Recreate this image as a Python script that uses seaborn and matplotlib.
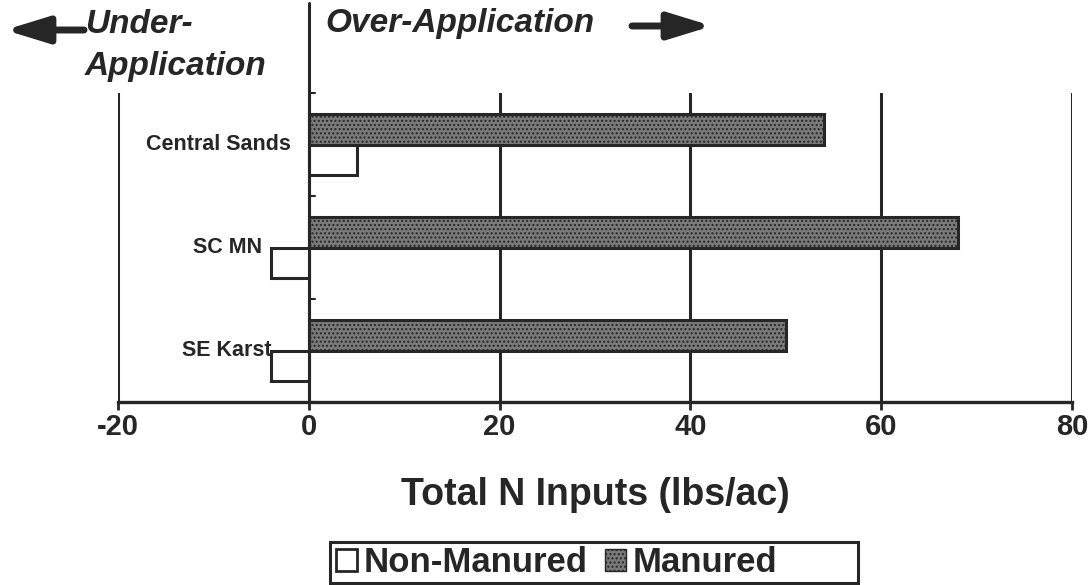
import matplotlib
matplotlib.use("Agg")
import matplotlib.pyplot as plt
from matplotlib.patches import Patch, Rectangle
import seaborn as sns
import pandas as pd

# Data: total N inputs relative to recommended rate (lbs/ac)
regions = ["Central Sands", "SC MN", "SE Karst"]
manured = [54, 68, 50]
non_manured = [5, -4, -4]
series = ["Manured", "Non-Manured"]
x_ticks = [-20, 0, 20, 40, 60, 80]

df = pd.DataFrame({
    "region": regions * 2,
    "value": manured + non_manured,
    "type": [series[0]] * len(regions) + [series[1]] * len(regions),
})

sns.set_theme(style="white")
plt.rcParams["font.family"] = ["Liberation Sans", "DejaVu Sans"]
plt.rcParams["hatch.linewidth"] = 1.0

INK = "#262626"
W, H = 1091, 585

fig = plt.figure(figsize=(W / 100, H / 100), dpi=100)
ax = fig.add_axes([118 / W, 1 - 402 / H, (1072 - 118) / W, (402 - 93) / H])

sns.barplot(data=df, y="region", x="value", hue="type", hue_order=series,
            order=regions, orient="h", width=0.59, gap=0, errorbar=None,
            palette={"Manured": "#7a7a7a", "Non-Manured": "white"},
            legend=False, ax=ax, zorder=3)

for cont, name in zip(ax.containers, series):
    for bar in cont:
        bar.set_edgecolor(INK)
        bar.set_linewidth(2.2)
        if name == "Manured":
            bar.set_hatch("....")

ax.set_xlim(-20, 80)
ax.set_ylim(2.5, -0.5)

# vertical grid at each 20 units
ax.set_xticks(x_ticks)
ax.set_xticklabels([str(t) for t in x_ticks], fontsize=21, fontweight="bold", color=INK)
ax.grid(axis="x", color=INK, linewidth=2.2, zorder=1)
ax.grid(axis="y", visible=False)
ax.tick_params(axis="x", direction="out", length=6, width=2, color=INK, pad=2, bottom=True)

# zero line doubles as the category axis, rising into the header
for side in ["left", "top", "right"]:
    ax.spines[side].set_visible(False)
ax.spines["bottom"].set_color(INK)
ax.spines["bottom"].set_linewidth(2.4)
ax.axvline(0, ymin=0, ymax=(402 - 3) / (402 - 93), color=INK, lw=2.2, clip_on=False, zorder=4)
ax.set_yticks([])
for yb in [-0.5, 0.5, 1.5, 2.5]:
    ax.plot([0, 0.6], [yb, yb], color=INK, lw=1.5, zorder=4, clip_on=False)

ax.set_ylabel("")
ax.set_xlabel("Total N Inputs (lbs/ac)", fontsize=27, fontweight="bold",
              color=INK, labelpad=26)

# category labels sit just left of each group's bars
label_x = [-1.9, -4.9, -3.9]
for i, (name, lx) in enumerate(zip(regions, label_x)):
    ax.text(lx, i, name, ha="right", va="center", fontsize=15.5,
            fontweight="bold", color=INK, zorder=5)

# header annotations
fig.text(85 / W, 1 - 9 / H, "Under-\nApplication", ha="left", va="top",
         fontsize=24, fontweight="bold", style="italic", color=INK, linespacing=1.45)
fig.text(325 / W, 1 - 8 / H, "Over-Application", ha="left", va="top",
         fontsize=24, fontweight="bold", style="italic", color=INK)
arrow = dict(arrowstyle="-|>,head_length=1.3,head_width=0.4", lw=5, color=INK,
             shrinkA=0, shrinkB=0, mutation_scale=20)
fig.add_artist(plt.Annotation("", xy=(5 / W, 1 - 30 / H), xytext=(84 / W, 1 - 30 / H),
                              xycoords="figure fraction", textcoords="figure fraction",
                              arrowprops=arrow))
fig.add_artist(plt.Annotation("", xy=(712 / W, 1 - 26 / H), xytext=(632 / W, 1 - 26 / H),
                              xycoords="figure fraction", textcoords="figure fraction",
                              arrowprops=arrow))

# legend inside a wide rectangular frame
handles = [Patch(facecolor="white", edgecolor=INK, linewidth=2),
           Patch(facecolor="#7a7a7a", edgecolor=INK, linewidth=1, hatch="....")]
fig.legend(handles, ["Non-Manured", "Manured"], loc="center left",
           bbox_to_anchor=(336 / W, 1 - 563 / H), ncol=2, frameon=False,
           handlelength=0.6, handleheight=0.6, handletextpad=0.2,
           columnspacing=0.5, borderpad=0, borderaxespad=0,
           prop={"weight": "bold", "size": 25}, labelcolor=INK)
fig.add_artist(Rectangle((330 / W, 1 - 583 / H), (858 - 330) / W, (583 - 542) / H,
                         transform=fig.transFigure, facecolor="none",
                         edgecolor=INK, linewidth=2.2))

fig.savefig("out.png", dpi=100, facecolor="white")
